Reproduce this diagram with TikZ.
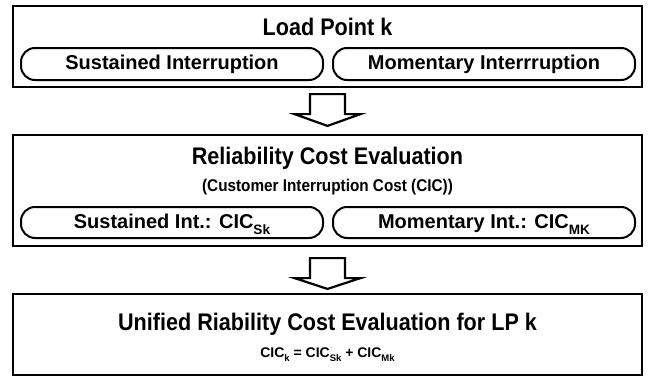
\documentclass[tikz,border=0pt]{standalone}
\usepackage{fontspec}
\setmainfont{Liberation Sans}
\newfontfamily\narrowsans[FakeStretch=0.9]{Liberation Sans}
\usetikzlibrary{positioning, calc}

\newcommand{\lowsub}[1]{\raisebox{-0.34em}{\scalebox{0.68}{#1}}}

\begin{document}
\begin{tikzpicture}[
    x=1pt, y=-1pt,
    font=\bfseries,
    box/.style={
        rectangle,
        draw,
        line width=2.2pt,
        minimum width=629pt,
        inner sep=0pt
    },
    pill/.style={
        rectangle,
        draw,
        line width=2pt,
        rounded corners=14pt,
        minimum width=302pt,
        inner sep=0pt,
        text height=14pt,
        text depth=3pt,
        font=\bfseries\fontsize{20}{24}\selectfont
    },
    title/.style={anchor=base, font=\narrowsans\bfseries\fontsize{24}{28}\selectfont},
    subtitle/.style={anchor=base, font=\narrowsans\bfseries\fontsize{17}{20}\selectfont},
    hollow/.style={draw, line width=2.2pt, line join=miter}
]
\useasboundingbox (0,0) rectangle (649,378);

\def\xm{327.5}
\def\xl{172}
\def\xr{484}

% Boxes
\node[box, minimum height=81pt]  (lp)  at (\xm, 46.5) {};
\node[box, minimum height=111pt] (rce) at (\xm, 190.5) {};
\node[box, minimum height=81pt]  (urc) at (\xm, 334.5) {};

% Load point
\node[title] (lpt) at (\xm, 35) {Load Point k};
\node[pill, minimum height=32pt] (lps) at (\xl, 64) {Sustained Interruption};
\node[pill, minimum height=32pt] (lpm) at (\xr, 64) {Momentary Interrruption};

% Reliability cost
\node[title] (rcet) at (\xm, 164) {Reliability Cost Evaluation};
\node[subtitle] (rces) at (\xm, 191) {(Customer Interruption Cost (CIC))};
\node[pill, minimum height=31pt] (rcs) at (\xl, 222.5) {Sustained Int.: CIC\lowsub{Sk}};
\node[pill, minimum height=31pt] (rcm) at (\xr, 222.5) {Momentary Int.: CIC\lowsub{MK}};

% Unified cost
\node[title] (urct) at (\xm, 330) {Unified Riability Cost Evaluation for LP k};
\node[anchor=base, font=\bfseries\fontsize{14}{17}\selectfont] (urce) at (\xm, 357)
    {CIC\lowsub{k} = CIC\lowsub{Sk} + CIC\lowsub{Mk}};

% Arrows
\draw[hollow] ($(lp.south)+(-17.5,6)$) -- ($(lp.south)+(-17.5,26)$) -- ($(lp.south)+(-33,26)$)
    -- ($(rce.north)+(0,-8)$) -- ($(lp.south)+(33,26)$) -- ($(lp.south)+(17.5,26)$)
    -- ($(lp.south)+(17.5,6)$) -- cycle;
\draw[hollow] ($(rce.south)+(-17.5,11)$) -- ($(rce.south)+(-17.5,31)$) -- ($(rce.south)+(-33,31)$)
    -- ($(urc.north)+(0,-4)$) -- ($(rce.south)+(33,31)$) -- ($(rce.south)+(17.5,31)$)
    -- ($(rce.south)+(17.5,11)$) -- cycle;

\end{tikzpicture}
\end{document}
